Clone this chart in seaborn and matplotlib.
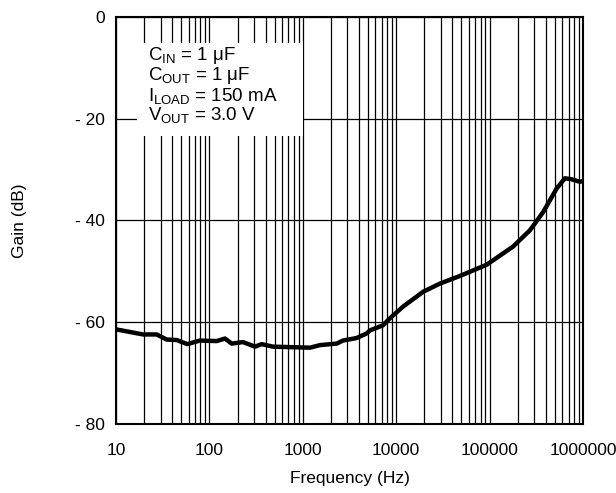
import matplotlib
matplotlib.use("Agg")
import matplotlib.pyplot as plt
import matplotlib.patches as mpatches
import seaborn as sns
import pandas as pd
import numpy as np

freq_hz = [10, 19.5, 27.3, 34.9, 44.7, 58, 79, 120, 147, 173, 229, 308, 363, 479,
           1194, 1528, 2307, 2692, 3776, 4830, 5245, 7230, 8590, 11900, 19500, 29400,
           48200, 93000, 179000, 271000, 376000, 523000, 641000, 757000, 929000, 1000000]
gain_db = [-61.4, -62.4, -62.4, -63.4, -63.5, -64.3, -63.6, -63.7, -63.2, -64.2, -63.9,
           -64.8, -64.3, -64.8, -65.0, -64.5, -64.2, -63.6, -63.1, -62.2, -61.6, -60.6,
           -59.2, -56.9, -54.0, -52.4, -50.9, -48.7, -45.1, -41.9, -38.3, -33.7, -31.7,
           -31.9, -32.4, -32.2]

x_ticks = [10, 100, 1000, 10000, 100000, 1000000]
x_tick_labels = ["10", "100", "1000", "10000", "100000", "1000000"]
y_ticks = [0, -20, -40, -60, -80]
y_tick_labels = ["0", "- 20", "- 40", "- 60", "- 80"]
annotation_lines = [r"C$\mathregular{_{IN}}$ = 1 μF",
                    r"C$\mathregular{_{OUT}}$ = 1 μF",
                    r"I$\mathregular{_{LOAD}}$ = 150 mA",
                    r"V$\mathregular{_{OUT}}$ = 3.0 V"]

sns.set_theme(style="white")
plt.rcParams['font.family'] = ['Liberation Sans', 'DejaVu Sans']
plt.rcParams['mathtext.fontset'] = 'custom'
plt.rcParams['mathtext.rm'] = 'Liberation Sans'

df = pd.DataFrame({"Frequency (Hz)": freq_hz, "Gain (dB)": gain_db})

fig = plt.figure(figsize=(6.16, 4.93), dpi=100)
ax = fig.add_axes([0.1883, 0.1400, 0.7581, 0.8255])

sns.lineplot(data=df, x="Frequency (Hz)", y="Gain (dB)", ax=ax, color="black",
             linewidth=3.2, zorder=5)

ax.set_xscale("log")
ax.set_xlim(10, 1000000)
ax.set_ylim(-80, 0)
ax.set_xticks(x_ticks)
ax.set_xticklabels(x_tick_labels)
ax.set_yticks(y_ticks)
ax.set_yticklabels(y_tick_labels)
ax.xaxis.set_minor_locator(matplotlib.ticker.LogLocator(base=10, subs=np.arange(2, 10), numticks=100))
ax.xaxis.set_minor_formatter(matplotlib.ticker.NullFormatter())
ax.tick_params(axis="both", which="both", length=0, labelsize=12.5, colors="black")
ax.tick_params(axis="x", pad=14)
ax.tick_params(axis="y", pad=8)
ax.grid(True, which="both", axis="x", color="black", linewidth=0.9)
ax.grid(True, which="major", axis="y", color="black", linewidth=0.9)
ax.set_axisbelow(True)
for s in ax.spines.values():
    s.set_color("black")
    s.set_linewidth(1.5)

ax.set_xlabel("Frequency (Hz)", fontsize=12.5, color="black")
ax.xaxis.set_label_coords(0.5, -0.115)
ax.set_ylabel("Gain (dB)", fontsize=12.5, color="black")
ax.yaxis.set_label_coords(-0.19, 0.5)

rect = mpatches.Rectangle((0.045, 0.708), 0.355, 0.228, transform=ax.transAxes,
                          facecolor="white", edgecolor="none", zorder=3)
ax.add_patch(rect)
y0 = 0.905
for i, line in enumerate(annotation_lines):
    ax.text(0.068, y0 - i * 0.049, line, transform=ax.transAxes, fontsize=13.5,
            va="center", ha="left", color="black", zorder=4)

fig.savefig("out.png", dpi=100)
